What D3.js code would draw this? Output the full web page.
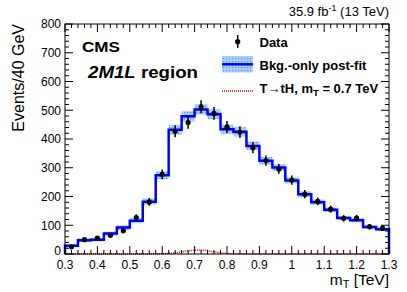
<!DOCTYPE html>
<html><head><meta charset="utf-8">
<script src="https://cdn.jsdelivr.net/npm/d3@7"></script>
<style>
html,body{margin:0;padding:0;background:#fff;}
svg{display:block;font-family:"Liberation Sans",Arial,Helvetica,sans-serif;}
</style></head>
<body>
<script>
// ---- data ----
const binEdges = [0.30,0.34,0.38,0.42,0.46,0.50,0.54,0.58,0.62,0.66,0.70,0.74,0.78,0.82,0.86,0.90,0.94,0.98,1.02,1.06,1.10,1.14,1.18,1.22,1.26,1.30];
const bkg     = [29,48,50,71,92,116,182,274,432,479,503,486,434,425,376,324,301,256,208,180,154,125,117,94,86];
const bkgErr  = [5,6,6,7,8,9,11,14,17,18,18,17,16,16,15,13,12,11,10,9,8,7,7,6,6];
const dataVals= [25,50,55,65,81,127,181,277,427,457,512,489,442,424,370,325,296,257,208,183,156,124,125,95,90];
const dataErr = [5,7,7.4,8,9,11.3,13.5,16.6,20.7,21.4,22.6,22.1,21,20.6,19.2,18,17.2,16,14.4,13.5,12.5,11.1,11.2,9.7,9.5];
const signal  = [0.2,0.2,0.2,0.2,0.2,0.3,0.4,0.8,4,11,14,7,2,0.6,0.3,0.2,0.2,0.2,0.2,0.2,0.2,0.2,0.2,0.2,0.2];
const xTicks = [0.3,0.4,0.5,0.6,0.7,0.8,0.9,1.0,1.1,1.2,1.3];
const yTicks = [0,100,200,300,400,500,600,700,800];

const W=407,H=292;
const L=65,R=389,T=24,B=254;
const svg=d3.select("body").append("svg").attr("width",W).attr("height",H);
const x=d3.scaleLinear().domain([0.3,1.3]).range([L,R]);
const y=d3.scaleLinear().domain([0,800]).range([B,T]);

// pattern for band
const defs=svg.append("defs");
const pat=defs.append("pattern").attr("id","dots").attr("patternUnits","userSpaceOnUse").attr("width",3).attr("height",3);
pat.append("rect").attr("width",3).attr("height",3).attr("fill","#a9d0ff");
pat.append("rect").attr("x",1).attr("y",1).attr("width",1.2).attr("height",1.2).attr("fill","#4d94ff");

const bins=bkg.map((v,i)=>({x0:binEdges[i],x1:binEdges[i+1],v,e:bkgErr[i],d:dataVals[i],de:dataErr[i],s:signal[i]}));

// band
svg.append("g").selectAll("rect").data(bins).join("rect")
  .attr("x",d=>x(d.x0)).attr("width",d=>x(d.x1)-x(d.x0))
  .attr("y",d=>y(d.v+d.e)).attr("height",d=>y(d.v-d.e)-y(d.v+d.e))
  .attr("fill","url(#dots)");

// bkg step line
const stepPts=[[binEdges[0],0]];
bins.forEach(d=>{stepPts.push([d.x0,d.v]);stepPts.push([d.x1,d.v]);});
stepPts.push([binEdges[binEdges.length-1],0]);
svg.append("path").datum(stepPts)
  .attr("d",d3.line().x(d=>x(d[0])).y(d=>y(d[1])))
  .attr("fill","none").attr("stroke","#0000ff").attr("stroke-width",2.5);

// signal line
const sigPts=bins.map(d=>[(d.x0+d.x1)/2,d.s]);
sigPts.unshift([0.3,signal[0]]);sigPts.push([1.3,signal[signal.length-1]]);
svg.append("path").datum(sigPts)
  .attr("d",d3.line().x(d=>x(d[0])).y(d=>y(d[1])).curve(d3.curveMonotoneX))
  .attr("fill","none").attr("stroke","#ff0000").attr("stroke-width",1.5).attr("stroke-dasharray","1,1");

// data
const dg=svg.append("g");
dg.selectAll("line").data(bins).join("line")
  .attr("x1",d=>x((d.x0+d.x1)/2)).attr("x2",d=>x((d.x0+d.x1)/2))
  .attr("y1",d=>y(d.d-d.de)).attr("y2",d=>y(d.d+d.de))
  .attr("stroke","#000").attr("stroke-width",1.5);
dg.selectAll("circle").data(bins).join("circle")
  .attr("cx",d=>x((d.x0+d.x1)/2)).attr("cy",d=>y(d.d)).attr("r",2.6).attr("fill","#000");

// frame
svg.append("rect").attr("x",L).attr("y",T).attr("width",R-L).attr("height",B-T)
  .attr("fill","none").attr("stroke","#000").attr("stroke-width",1);

// ticks
const tk=svg.append("g").attr("stroke","#000").attr("stroke-width",1);
const yMinor=d3.range(0,801,20);
yMinor.forEach(v=>{
  const major=v%100===0; const len=major?8:4;
  tk.append("line").attr("x1",L).attr("x2",L+len).attr("y1",y(v)).attr("y2",y(v));
  tk.append("line").attr("x1",R).attr("x2",R-len).attr("y1",y(v)).attr("y2",y(v));
});
const xMinor=d3.range(0,51).map(i=>0.3+i*0.02);
xMinor.forEach((v,i)=>{
  const major=i%5===0; const len=major?8:4;
  tk.append("line").attr("x1",x(v)).attr("x2",x(v)).attr("y1",B).attr("y2",B-len);
  tk.append("line").attr("x1",x(v)).attr("x2",x(v)).attr("y1",T).attr("y2",T+len);
});

// tick labels
svg.append("g").selectAll("text").data(yTicks).join("text")
  .attr("x",L-4).attr("y",d=>y(d)+(d===0?1:4.3)).attr("text-anchor","end")
  .attr("font-size",12).text(d=>d);
svg.append("g").selectAll("text").data(xTicks).join("text")
  .attr("x",d=>x(d)).attr("y",B+14.5).attr("text-anchor","middle")
  .attr("font-size",12).text(d=>d3.format("")(+d.toFixed(1)));

// axis titles
const xt=svg.append("text").attr("x",R).attr("y",285).attr("text-anchor","end").attr("font-size",15.5);
xt.append("tspan").text("m");
xt.append("tspan").attr("font-size",11).attr("dy",3).text("T");
xt.append("tspan").attr("dy",-3).text(" [TeV]");
svg.append("text").attr("transform",`translate(23.5,${T}) rotate(-90)`).attr("text-anchor","end")
  .attr("font-size",16).text("Events/40 GeV");

// lumi
const lt=svg.append("text").attr("x",R).attr("y",16).attr("text-anchor","end").attr("font-size",13);
lt.append("tspan").text("35.9 fb");
lt.append("tspan").attr("font-size",9).attr("dy",-5).text("-1");
lt.append("tspan").attr("dy",5).text(" (13 TeV)");

// CMS labels
svg.append("text").attr("x",82).attr("y",52).attr("font-size",14.5).attr("font-weight","bold")
  .attr("textLength",38).attr("lengthAdjust","spacingAndGlyphs").text("CMS");
const rt=svg.append("text").attr("x",88).attr("y",78).attr("font-size",16.5).attr("font-weight","bold")
  .attr("textLength",110).attr("lengthAdjust","spacingAndGlyphs");
rt.append("tspan").attr("font-style","italic").text("2M1L");
rt.append("tspan").text(" region");

// legend
const lg=svg.append("g");
lg.append("line").attr("x1",237.7).attr("x2",237.7).attr("y1",35).attr("y2",48).attr("stroke","#000").attr("stroke-width",1.5);
lg.append("circle").attr("cx",237.7).attr("cy",41.7).attr("r",2.6).attr("fill","#000");
lg.append("text").attr("x",259.5).attr("y",46.5).attr("font-size",13).attr("font-weight","bold").text("Data");
lg.append("rect").attr("x",222).attr("y",56).attr("width",31).attr("height",16.5).attr("fill","url(#dots)");
lg.append("line").attr("x1",222).attr("x2",253).attr("y1",64.3).attr("y2",64.3).attr("stroke","#0000ff").attr("stroke-width",2.5);
lg.append("text").attr("x",259.5).attr("y",69.5).attr("font-size",13).attr("font-weight","bold").text("Bkg.-only post-fit");
lg.append("line").attr("x1",222).attr("x2",253).attr("y1",91).attr("y2",91).attr("stroke","#ff0000").attr("stroke-width",1.5).attr("stroke-dasharray","1,1");
const st=lg.append("text").attr("x",259.5).attr("y",93).attr("font-size",13).attr("font-weight","bold");
st.append("tspan").text("T\u2192tH, m");
st.append("tspan").attr("font-size",9.5).attr("dy",3).text("T");
st.append("tspan").attr("dy",-3).text(" = 0.7 TeV");
</script>
</body></html>
